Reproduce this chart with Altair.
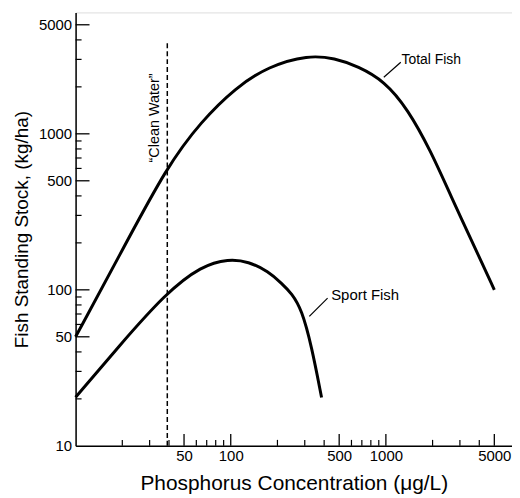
import altair as alt
import pandas as pd

# Data (log-log axes)
total_x = [10, 19, 39, 65, 107, 175, 316, 469, 661, 980, 1383, 1942, 2612, 3890, 5000]
total_y = [50, 163, 625, 1210, 1970, 2710, 3200, 3050, 2710, 2178, 1442, 780, 403, 172, 100]

sport_x = [10, 19, 38, 65, 97, 130, 175, 213, 247, 287, 332, 385]
sport_y = [20.5, 43.5, 95, 143, 158, 152, 131, 110, 95, 74.6, 43.5, 20.4]

clean_water_x = 39
clean_water_y = [10, 3800]

x_major = [50, 100, 500, 1000, 5000]
x_minor = [20, 30, 40, 60, 70, 80, 90, 200, 300, 400, 600, 700, 800, 900, 2000, 3000, 4000]
y_major = [50, 100, 500, 1000, 5000]
y_minor = [20, 30, 40, 60, 70, 80, 90, 200, 300, 400, 600, 700, 800, 900, 2000, 3000, 4000]
y_labels = [10, 50, 100, 500, 1000, 5000]

# annotation positions (data coordinates)
labels_text = ["Total Fish", "Sport Fish"]
labels_x = [1260, 444]
labels_y = [2960, 92.9]
labels_size = [14, 15]
leader_x = [970, 321]
leader_y = [2307, 67.6]
leader_x2 = [1247, 421]
leader_y2 = [2877, 88.5]

FONT = "Liberation Sans"
W, H = 439, 436

xs = alt.Scale(type="log", domain=[10, 6500], nice=False)
ys = alt.Scale(type="log", domain=[10, 6000], nice=False)

xax = alt.Axis(values=x_major, ticks=False, grid=False, format="d",
               title="Phosphorus Concentration (\u03bcg/L)",
               labelFontSize=15, labelPadding=3, labelFlush=False,
               titleFontSize=21, titlePadding=9, titleFontWeight="normal",
               domainColor="black", domainWidth=1.5,
               labelColor="black", titleColor="black",
               labelFont=FONT, titleFont=FONT)
yax = alt.Axis(values=y_labels, ticks=False, grid=False, format="d",
               title="Fish Standing Stock, (kg/ha)",
               labelFontSize=15, labelPadding=4, labelFlush=False,
               titleFontSize=19, titlePadding=7, titleFontWeight="normal",
               domainColor="black", domainWidth=1.5,
               labelColor="black", titleColor="black",
               labelFont=FONT, titleFont=FONT)

X = lambda: alt.X("p:Q", scale=xs, axis=xax)
Y = lambda: alt.Y("s:Q", scale=ys, axis=yax)

df_total = pd.DataFrame({"p": total_x, "s": total_y})
df_sport = pd.DataFrame({"p": sport_x, "s": sport_y})

total = alt.Chart(df_total).mark_line(color="black", strokeWidth=3, interpolate="basis").encode(x=X(), y=Y())
sport = alt.Chart(df_sport).mark_line(color="black", strokeWidth=3, interpolate="basis").encode(x=X(), y=Y())

df_cw = pd.DataFrame({"p": [clean_water_x], "s": [clean_water_y[0]], "s2": [clean_water_y[1]]})
cw = alt.Chart(df_cw).mark_rule(color="black", strokeWidth=1.5, strokeDash=[5, 3]).encode(
    x=X(), y=Y(), y2="s2:Q")

df_cwt = pd.DataFrame({"p": [36], "s": [1265], "t": ["\u201cClean Water\u201d"]})
cwt = alt.Chart(df_cwt).mark_text(angle=270, align="center", baseline="bottom", fontSize=14.5,
                                  font=FONT, color="black").encode(x=X(), y=Y(), text="t:N")

df_lab = pd.DataFrame({"p": labels_x, "s": labels_y, "t": labels_text, "fs": labels_size})
lab = alt.Chart(df_lab).mark_text(align="left", baseline="middle", font=FONT,
                                  color="black").encode(
    x=X(), y=Y(), text="t:N", size=alt.Size("fs:Q", scale=None, legend=None))

df_lead = pd.DataFrame({"p": leader_x, "s": leader_y, "p2": leader_x2, "s2": leader_y2})
lead = alt.Chart(df_lead).mark_rule(color="black", strokeWidth=1.2).encode(
    x=X(), y=Y(), x2="p2:Q", y2="s2:Q")

xt_major = alt.Chart(pd.DataFrame({"p": x_major})).mark_rule(color="black", strokeWidth=1.3).encode(
    x=X(), y=alt.value(H), y2=alt.value(H - 12))
xt_minor = alt.Chart(pd.DataFrame({"p": x_minor})).mark_rule(color="black", strokeWidth=1.2).encode(
    x=X(), y=alt.value(H), y2=alt.value(H - 6))
yt_major = alt.Chart(pd.DataFrame({"s": y_major})).mark_rule(color="black", strokeWidth=1.3).encode(
    y=Y(), x=alt.value(0), x2=alt.value(14))
yt_minor = alt.Chart(pd.DataFrame({"s": y_minor})).mark_rule(color="black", strokeWidth=1.2).encode(
    y=Y(), x=alt.value(0), x2=alt.value(6))

chart = alt.layer(total, sport, cw, cwt, lab, lead, xt_major, xt_minor, yt_major, yt_minor).properties(
    width=W, height=H, padding={"left": 4, "top": 3, "right": 0, "bottom": 0}
).configure_view(stroke=None).configure(background="white")

chart.save("out.html", embed_options={"renderer": "svg", "actions": False})
